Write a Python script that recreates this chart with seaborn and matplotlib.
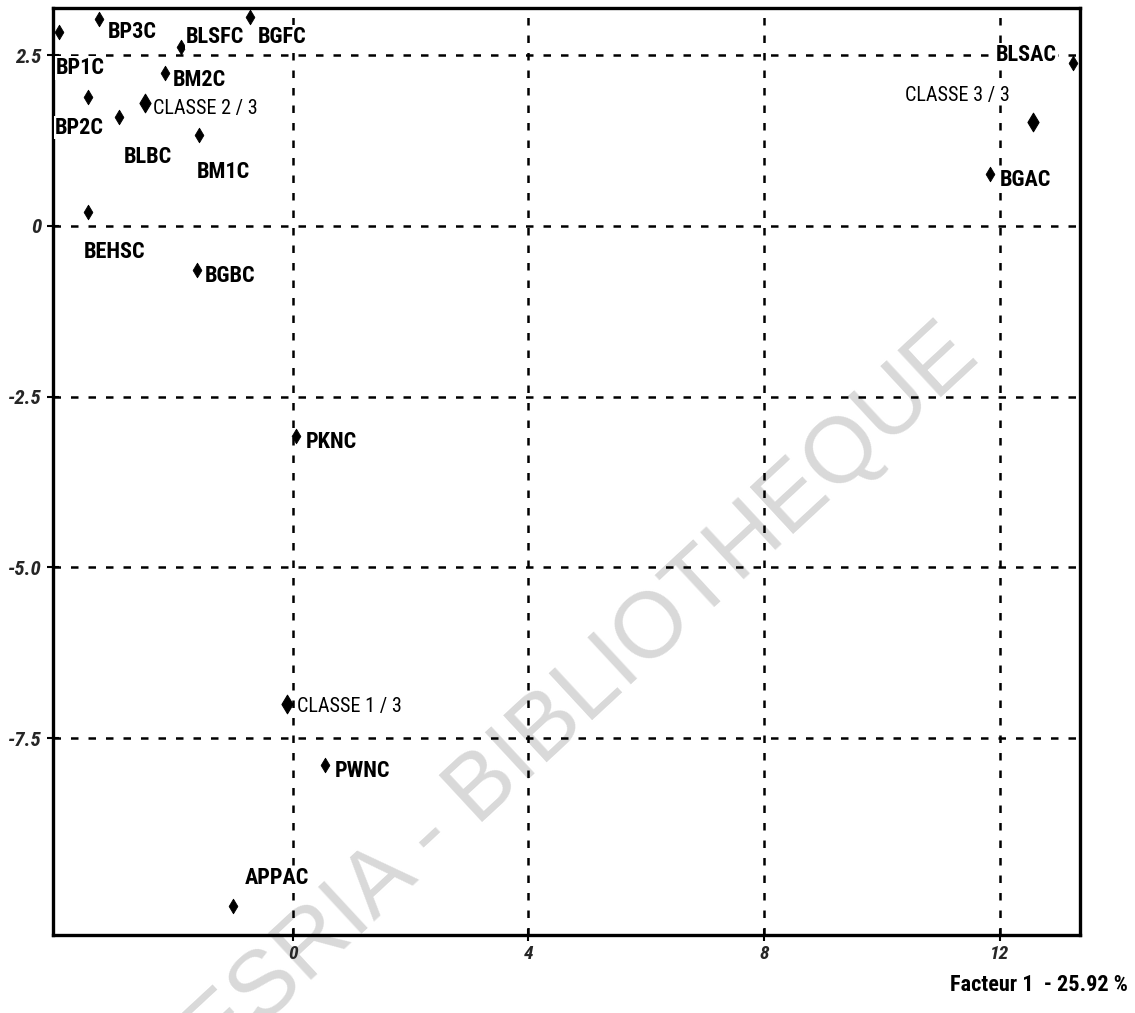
import matplotlib
matplotlib.use("Agg")
import matplotlib.pyplot as plt
import seaborn as sns
import pandas as pd
from matplotlib import font_manager

# ---- data ----
names = ["BP1C", "BP3C", "BLSFC", "BGFC", "BM2C", "BP2C", "CLASSE 2 / 3", "BLBC",
         "BM1C", "BEHSC", "BGBC", "PKNC", "CLASSE 1 / 3", "PWNC", "APPAC",
         "BLSAC", "CLASSE 3 / 3", "BGAC"]
factor1 = [-3.97, -3.29, -1.90, -0.73, -2.17, -3.48, -2.51, -2.95,
           -1.60, -3.48, -1.63, 0.05, -0.10, 0.54, -1.02,
           13.24, 12.56, 11.83]
factor2 = [2.84, 3.03, 2.62, 3.06, 2.24, 1.89, 1.80, 1.60,
           1.33, 0.20, -0.64, -3.07, -7.00, -7.89, -9.96,
           2.39, 1.52, 0.76]
kind = ["var", "var", "var", "var", "var", "var", "classe", "var",
        "var", "var", "var", "var", "classe", "var", "var",
        "var", "classe", "var"]
x_ticks = [0, 4, 8, 12]
y_ticks = [2.5, 0, -2.5, -5.0, -7.5]
y_tick_labels = ["2.5", "0", "-2.5", "-5.0", "-7.5"]
x_title = "Facteur 1  - 25.92 %"
watermark = "CODESRIA - BIBLIOTHEQUE"

# label placement (offset pixels, horizontal alignment)
offsets = {
    "BP1C": (-3, -36, "left"), "BP3C": (9, -13, "left"), "BLSFC": (5, 10, "left"),
    "BGFC": (8, -20, "left"), "BM2C": (8, -7, "left"), "BP2C": (-33, -31, "left"),
    "CLASSE 2 / 3": (8, -6, "left"), "BLBC": (5, -40, "left"), "BM1C": (-2, -37, "left"),
    "BEHSC": (-4, -40, "left"), "BGBC": (8, -6, "left"), "PKNC": (10, -6, "left"),
    "CLASSE 1 / 3": (10, -2, "left"), "PWNC": (10, -6, "left"), "APPAC": (12, 28, "left"),
    "BLSAC": (-16, 8, "right"), "CLASSE 3 / 3": (-23, 27, "right"), "BGAC": (10, -6, "left"),
}

df = pd.DataFrame({"name": names, "f1": factor1, "f2": factor2, "kind": kind})

sns.set_theme(style="white")
avail = {f.name for f in font_manager.fontManager.ttflist}
narrow = None
for cand in ["Liberation Sans Narrow", "Roboto Condensed", "DejaVu Sans Condensed"]:
    if cand in avail:
        narrow = cand
        break
if narrow is None:
    narrow = "Liberation Sans"
plt.rcParams["font.family"] = [narrow, "DejaVu Sans"]

fig = plt.figure(figsize=(11.35, 10.13), dpi=100)
ax = fig.add_axes([53 / 1135, 1 - 935 / 1013, (1080 - 53) / 1135, (935 - 8) / 1013])
ax.set_facecolor("none")

sns.scatterplot(data=df[df.kind == "var"], x="f1", y="f2", marker="d", s=55,
                color="black", edgecolor="black", ax=ax, zorder=5, legend=False)
sns.scatterplot(data=df[df.kind == "classe"], x="f1", y="f2", marker="d", s=90,
                color="black", edgecolor="black", ax=ax, zorder=5, legend=False)

for n, x, y, k in zip(names, factor1, factor2, kind):
    dx, dy, ha = offsets[n]
    if k == "classe":
        ax.annotate(n, (x, y), xytext=(dx, dy), textcoords="offset pixels",
                    ha=ha, va="center", fontsize=14.5, color="black", zorder=6,
                    bbox=dict(facecolor="white", edgecolor="none", pad=0.5))
    else:
        ax.annotate(n, (x, y), xytext=(dx, dy), textcoords="offset pixels",
                    ha=ha, va="center", fontsize=16, fontweight="bold",
                    color="black", zorder=6,
                    bbox=dict(facecolor="white", edgecolor="none", pad=0.5))

ax.set_xlim(-4.07, 13.36)
ax.set_ylim(-10.38, 3.19)
ax.set_xticks(x_ticks)
ax.set_xticklabels([str(t) for t in x_ticks], fontstyle="italic", fontweight="bold",
                   fontsize=14)
ax.set_yticks(y_ticks)
ax.set_yticklabels(y_tick_labels, fontstyle="italic", fontweight="bold", fontsize=15)
ax.set_xlabel("")
ax.set_ylabel("")
ax.tick_params(axis="both", direction="inout", length=8, width=1.5, color="black",
               left=True, bottom=True)
ax.tick_params(axis="y", pad=4)
ax.tick_params(axis="x", pad=3)

for t in x_ticks:
    ax.axvline(t, color="black", linestyle=(0, (3, 4)), linewidth=1.8, zorder=1)
for t in y_ticks:
    ax.axhline(t, color="black", linestyle=(0, (3, 4)), linewidth=1.8, zorder=1)

for sp in ax.spines.values():
    sp.set_color("black")
    sp.set_linewidth(2.4)

fig.text(1128 / 1135, 1 - 985 / 1013, x_title, ha="right", va="center",
         fontsize=16, fontweight="bold", color="black")

fig.text(506 / 1135, 1 - 767 / 1013, watermark, ha="center", va="center",
         rotation=42.8, fontsize=67, color="#d9d9d9", zorder=-1,
         rotation_mode="anchor", family=["Liberation Sans", "DejaVu Sans"])

fig.savefig("out.png", dpi=100, facecolor="white")
